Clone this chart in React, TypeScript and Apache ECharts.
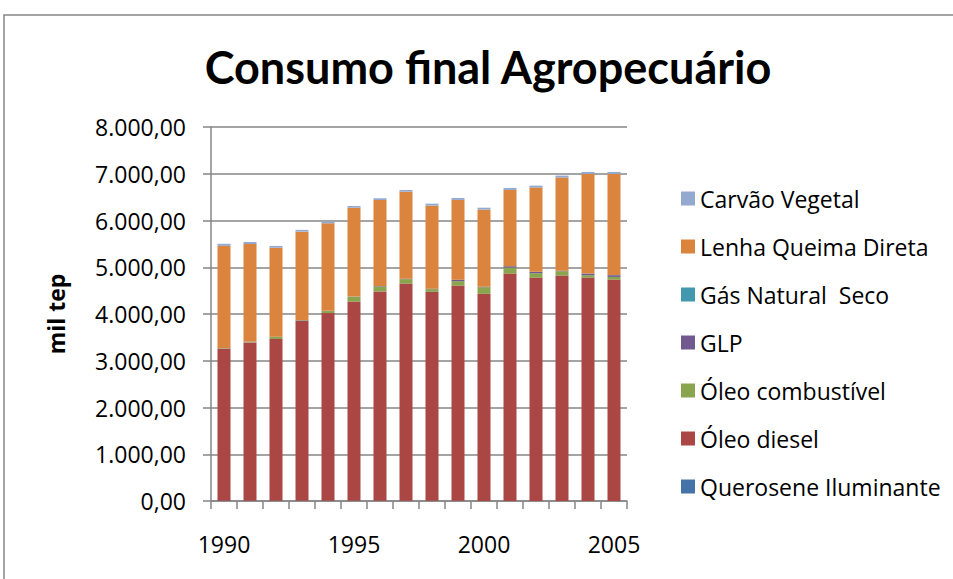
import React, { useEffect, useRef } from "react";
import * as echarts from "echarts";

const years = ["1990","1991","1992","1993","1994","1995","1996","1997","1998","1999","2000","2001","2002","2003","2004","2005"];
const querosene = [8, 7, 6, 5, 5, 4, 4, 3, 3, 3, 2, 2, 2, 2, 2, 2];
const oleoDiesel = [3250, 3386, 3459, 3850, 4015, 4263, 4477, 4648, 4470, 4605, 4428, 4862, 4777, 4820, 4777, 4734];
const oleoCombustivel = [12, 15, 43, 12, 43, 100, 107, 94, 58, 95, 143, 128, 93, 93, 51, 57];
const glp = [5, 5, 5, 5, 5, 5, 10, 10, 10, 30, 10, 30, 30, 10, 35, 37];
const gasNatural = [0, 0, 0, 0, 0, 0, 0, 0, 1, 1, 1, 2, 2, 2, 2, 2];
const lenha = [2182, 2084, 1905, 1890, 1872, 1902, 1841, 1861, 1776, 1706, 1648, 1630, 1800, 1991, 2130, 2165];
const carvao = [45, 43, 38, 37, 36, 36, 36, 36, 42, 42, 42, 42, 42, 42, 42, 42];

const seriesNames = ["Querosene Iluminante", "Óleo diesel", "Óleo combustível", "GLP", "Gás Natural  Seco", "Lenha Queima Direta", "Carvão Vegetal"];
const seriesValues = [querosene, oleoDiesel, oleoCombustivel, glp, gasNatural, lenha, carvao];
const seriesColors = ["#4572A7", "#AA4643", "#89A54E", "#71588F", "#4198AF", "#DB843D", "#93A9CF"];

const yMin = 0;
const yMax = 8000;
const yInterval = 1000;

function fmt(v: number): string {
  const s = Math.round(v).toString();
  const withDots = s.replace(/\B(?=(\d{3})+(?!\d))/g, ".");
  return withDots + ",00";
}

const TITLE_FONT = "Lato, 'Open Sans', sans-serif";
const FONT = "'Open Sans', Lato, sans-serif";

export default function App() {
  const ref = useRef<HTMLDivElement>(null);
  useEffect(() => {
    if (!ref.current) return;
    const chart = echarts.init(ref.current, null, { renderer: "svg" });
    const grey = "#868686";
    chart.setOption({
      animation: false,
      backgroundColor: "#ffffff",
      title: {
        text: "Consumo final Agropecuário",
        left: 483,
        top: 39,
        textAlign: "center",
        textStyle: { fontFamily: TITLE_FONT, fontWeight: "bold", fontSize: 45, color: "#000" },
      },
      graphic: [
        {
          type: "rect",
          shape: { x: 4, y: 15, width: 1200, height: 900 },
          style: { fill: "none", stroke: grey, lineWidth: 1.5 },
          silent: true,
        },
      ],
      legend: {
        orient: "vertical",
        left: 676,
        top: 182,
        itemWidth: 14,
        itemHeight: 14,
        itemGap: 25,
        icon: "rect",
        data: seriesNames.slice().reverse(),
        textStyle: { fontFamily: FONT, fontSize: 23, color: "#000" },
      },
      grid: { left: 211, right: 326, top: 127, bottom: 78, containLabel: false },
      xAxis: {
        type: "category",
        data: years,
        boundaryGap: true,
        axisLine: { show: true, lineStyle: { color: grey, width: 1.5 } },
        axisTick: { show: true, interval: 0, length: 8, lineStyle: { color: grey, width: 1.5 } },
        axisLabel: { interval: 4, margin: 31, fontFamily: FONT, fontSize: 23, color: "#000" },
      },
      yAxis: {
        type: "value",
        min: yMin,
        max: yMax,
        interval: yInterval,
        name: "mil tep",
        nameLocation: "middle",
        nameGap: 144,
        nameTextStyle: { fontFamily: FONT, fontWeight: "bold", fontSize: 23, color: "#000" },
        axisLine: { show: true, lineStyle: { color: grey, width: 1.5 } },
        axisTick: { show: true, length: 8, lineStyle: { color: grey, width: 1.5 } },
        splitLine: { show: true, lineStyle: { color: grey, width: 1.5 } },
        axisLabel: { margin: 25, fontFamily: FONT, fontSize: 23, color: "#000", formatter: (v: number) => fmt(v) },
      },
      series: seriesNames.map((name, i) => ({
        name,
        type: "bar",
        stack: "total",
        barCategoryGap: "50%",
        data: seriesValues[i],
        itemStyle: { color: seriesColors[i] },
      })),
    });
    return () => chart.dispose();
  }, []);
  return <div ref={ref} style={{ position: "absolute", left: 0, top: 0, width: 953, height: 579 }} />;
}
